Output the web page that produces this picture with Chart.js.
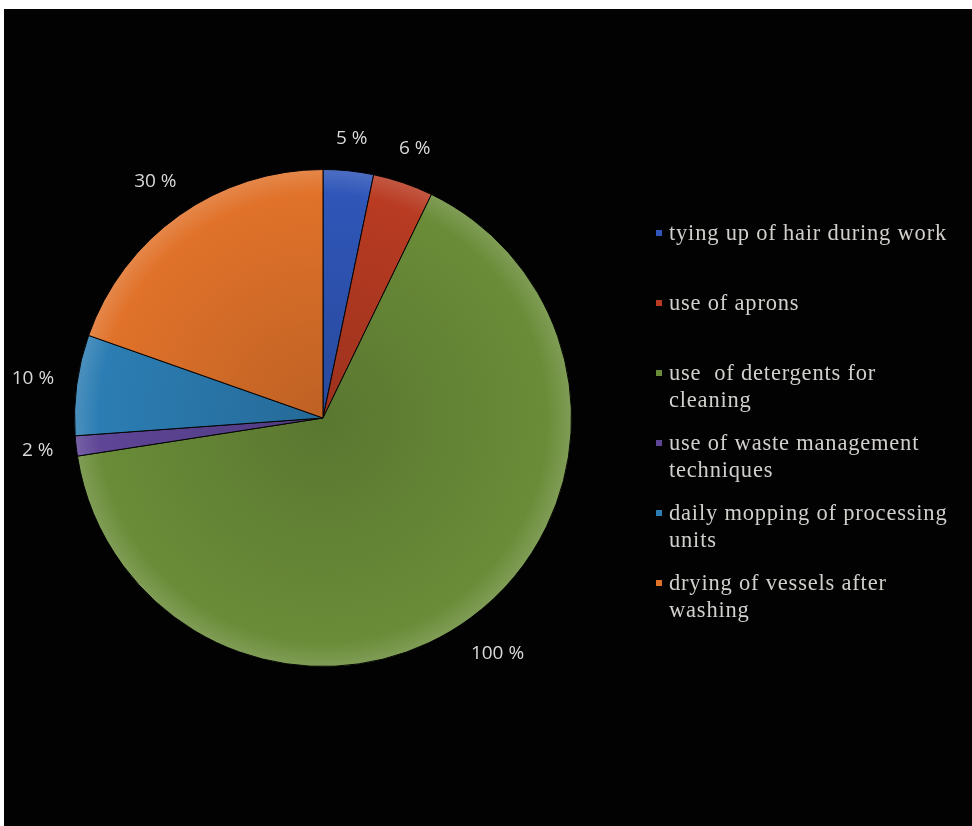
<!DOCTYPE html>
<html>
<head>
<meta charset="utf-8">
<script src="https://cdn.jsdelivr.net/npm/chart.js@4"></script>
<style>
  html, body { margin: 0; padding: 0; background: #fff; overflow: hidden; }
  #frame { position: absolute; left: 4px; top: 9px; right: 0; bottom: 0; background: #020202; }
  #wrap { position: absolute; left: 0; top: 0; width: 972px; height: 826px; }
  #legend { position: absolute; left: 651px; top: 219px; width: 321px; margin: 0; padding: 0; list-style: none;
    font-family: "Liberation Serif", "DejaVu Serif", serif; font-size: 22.5px; color: #d2d0cc; letter-spacing: 0.8px; }
  #legend li { position: relative; height: 70px; padding-left: 18px; line-height: 27px; white-space: nowrap; }
  #legend .sw { position: absolute; left: 5px; top: 11px; width: 6px; height: 6px; }
</style>
</head>
<body>
<div id="frame"></div>
<div id="wrap"><canvas id="pie-chart"></canvas></div>
<ul id="legend"></ul>
<script>
// Hygiene practices - pie data
const categories = [
  'tying up of hair during work',
  'use of aprons',
  'use  of detergents for cleaning',
  'use of waste management techniques',
  'daily mopping of processing units',
  'drying of vessels after washing',
];
const legendLines = [
  ['tying up of hair during work'],
  ['use of aprons'],
  ['use\u00a0 of detergents for', 'cleaning'],
  ['use of waste management', 'techniques'],
  ['daily mopping of processing', 'units'],
  ['drying of vessels after', 'washing'],
];
const values = [5, 6, 100, 2, 10, 30];
const colors = ['#2f56b8', '#b83b22', '#6a8c38', '#5e4596', '#2c7db3', '#e0722a'];

function shade(hex, amt) {
  const n = parseInt(hex.slice(1), 16);
  const f = c => Math.max(0, Math.min(255, Math.round(c + amt * (amt > 0 ? 255 - c : c))));
  return `rgb(${f(n >> 16)}, ${f((n >> 8) & 255)}, ${f(n & 255)})`;
}

// Legend (HTML)
document.getElementById('legend').innerHTML = legendLines.map((lines, i) => `
  <li><span class="sw" style="background:${colors[i]}"></span>${lines.join('<br>')}</li>
`).join('');

// percentage labels outside each slice
const outsideLabels = {
  id: 'outsideLabels',
  afterDatasetsDraw(chart) {
    const { ctx } = chart;
    const meta = chart.getDatasetMeta(0);
    ctx.save();
    ctx.font = '19px "Open Sans", sans-serif';
    ctx.fillStyle = '#d9d9d9';
    ctx.textAlign = 'center';
    ctx.textBaseline = 'middle';
    meta.data.forEach((arc, i) => {
      const { x, y, startAngle, endAngle, outerRadius } = arc.getProps(['x', 'y', 'startAngle', 'endAngle', 'outerRadius'], true);
      const mid = (startAngle + endAngle) / 2;
      const text = values[i] + ' %';
      const w = ctx.measureText(text).width;
      const dist = outerRadius + 22 + Math.abs(Math.cos(mid)) * w / 2 + Math.abs(Math.sin(mid)) * 9;
      ctx.fillText(text, x + Math.cos(mid) * dist, y + Math.sin(mid) * dist);
    });
    ctx.restore();
  },
};

const ctx = document.getElementById('pie-chart').getContext('2d');
new Chart(ctx, {
  type: 'pie',
  data: {
    labels: categories,
    datasets: [{
      data: values,
      backgroundColor: (c) => {
        const base = colors[c.dataIndex];
        const area = c.chart.chartArea;
        if (!area) return base;
        const cx = (area.left + area.right) / 2;
        const cy = (area.top + area.bottom) / 2;
        const r = Math.min(area.width, area.height) / 2;
        const g = c.chart.ctx.createRadialGradient(cx, cy, 0, cx, cy, r);
        g.addColorStop(0, shade(base, -0.15));
        g.addColorStop(0.9, base);
        g.addColorStop(1, shade(base, 0.15));
        return g;
      },
      borderColor: '#050505',
      borderWidth: 1,
      hoverOffset: 0,
    }],
  },
  options: {
    responsive: true,
    maintainAspectRatio: false,
    animation: false,
    layout: { padding: { left: 74, top: 169, right: 400, bottom: 159 } },
    plugins: { legend: { display: false }, tooltip: { enabled: false } },
  },
  plugins: [outsideLabels],
});
</script>
</body>
</html>
